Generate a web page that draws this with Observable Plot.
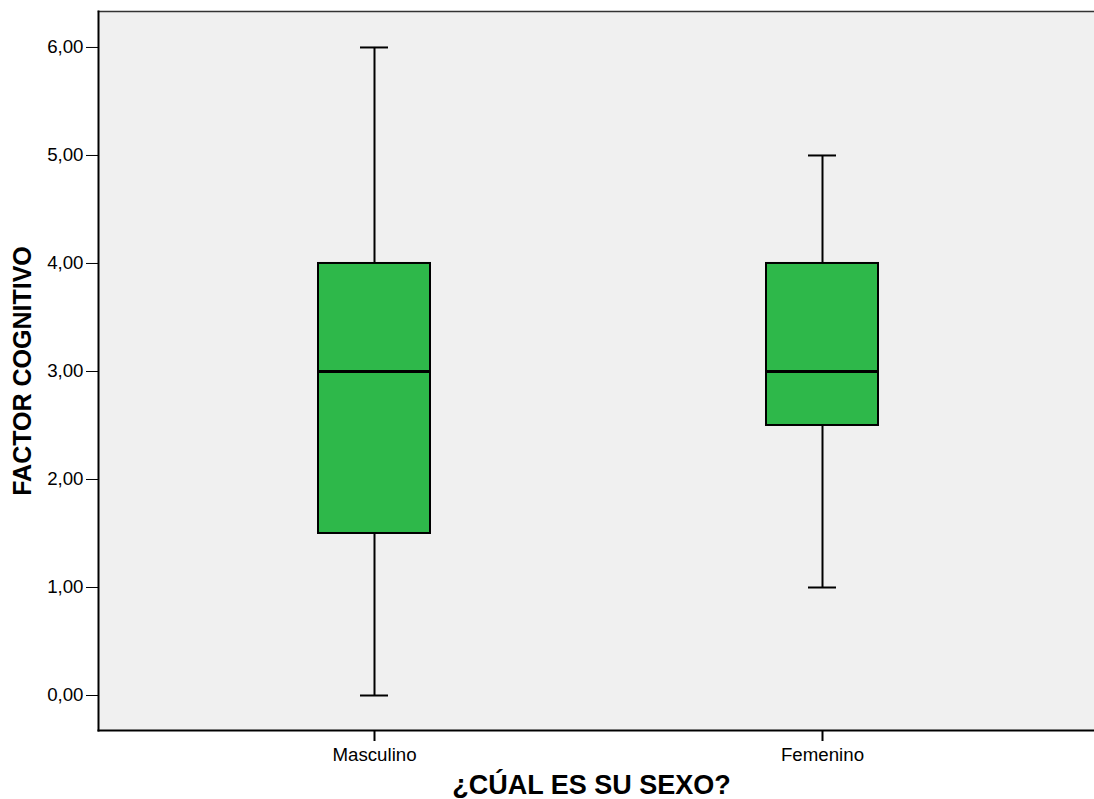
<!DOCTYPE html>
<html>
<head>
<meta charset="utf-8">
<script src="https://cdn.jsdelivr.net/npm/d3@7"></script>
<script src="https://cdn.jsdelivr.net/npm/@observablehq/plot@0.6"></script>
<style>
  html, body { margin: 0; padding: 0; background: #fff; }
  svg { display: block; }
  .chart g[aria-label="y-axis tick label"] text,
  .chart g[aria-label="x-axis tick label"] text { font-size: 18.7px; }
  .chart g[aria-label="y-axis label"] text { font-weight: bold; font-size: 25px; }
  .chart g[aria-label="text"] text { font-weight: bold; font-size: 27px; }
</style>
</head>
<body>
<div id="chart"></div>
<script>
const categories = ["Masculino", "Femenino"];
const minVals = [0, 1];
const q1Vals = [1.5, 2.5];
const medianVals = [3, 3];
const q3Vals = [4, 4];
const maxVals = [6, 5];
const yTicks = [0, 1, 2, 3, 4, 5, 6];
const xTitle = "¿CÚAL ES SU SEXO?";
const yTitle = "FACTOR COGNITIVO";

const rows = categories.map((c, i) => ({
  cat: c, min: minVals[i], q1: q1Vals[i], med: medianVals[i], q3: q3Vals[i], max: maxVals[i]
}));

const fmt = d => d.toFixed(2).replace(".", ",");

const chart = Plot.plot({
  className: "chart",
  width: 1094,
  height: 799,
  marginLeft: 98,
  marginTop: 11,
  marginRight: 0,
  marginBottom: 69,
  style: { fontFamily: "'Liberation Sans', Arial, sans-serif", fontSize: "14px", background: "#fff", color: "#000" },
  x: { type: "band", domain: categories, paddingInner: 0.7506, paddingOuter: 0.4845, align: 0.5034, label: null },
  y: { domain: [-0.324, 6.333], label: null },
  marks: [
    Plot.frame({ fill: "#f0f0f0", stroke: null }),
    Plot.frame({ anchor: "top", stroke: "#333", strokeWidth: 1.5 }),
    Plot.frame({ anchor: "left", stroke: "#000", strokeWidth: 2 }),
    Plot.frame({ anchor: "bottom", stroke: "#000", strokeWidth: 2 }),
    Plot.axisY({ ticks: yTicks, tickFormat: fmt, tickSize: 12, tickPadding: 3, tickWidth: 2,
      label: yTitle, labelAnchor: "center", labelArrow: "none", labelOffset: 85 }),
    Plot.axisX({ tickSize: 11, tickPadding: 6, strokeWidth: 2, label: null }),
    // whiskers
    Plot.ruleX(rows, { x: "cat", y1: "min", y2: "q1", stroke: "#000", strokeWidth: 2 }),
    Plot.ruleX(rows, { x: "cat", y1: "q3", y2: "max", stroke: "#000", strokeWidth: 2 }),
    // caps
    Plot.tickY(rows, { x: "cat", y: "min", stroke: "#000", strokeWidth: 2, insetLeft: 42, insetRight: 42 }),
    Plot.tickY(rows, { x: "cat", y: "max", stroke: "#000", strokeWidth: 2, insetLeft: 42, insetRight: 42 }),
    // boxes
    Plot.barY(rows, { x: "cat", y1: "q1", y2: "q3", fill: "#2eb84a", stroke: "#000", strokeWidth: 2 }),
    // median
    Plot.tickY(rows, { x: "cat", y: "med", stroke: "#000", strokeWidth: 3 }),
    // x title
    Plot.text([xTitle], { frameAnchor: "bottom", lineAnchor: "middle", dy: 55, dx: -5, text: d => d, fill: "#000" })
  ]
});

document.getElementById("chart").appendChild(chart);
</script>
</body>
</html>
